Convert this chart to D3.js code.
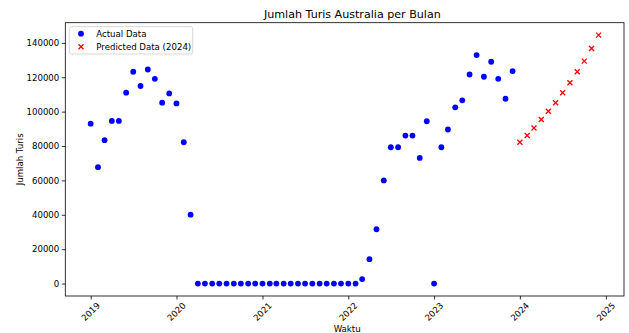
<!DOCTYPE html>
<html>
<head>
<meta charset="utf-8">
<script src="https://cdn.jsdelivr.net/npm/d3@7"></script>
<style>
  html, body { margin: 0; padding: 0; background: #fff; }
  svg { display: block; font-family: "DejaVu Sans", sans-serif; }
</style>
</head>
<body>
<svg id="chart" width="629" height="333"></svg>
<script>
// ---- data ----
const title = "Jumlah Turis Australia per Bulan";
const xLabel = "Waktu";
const yLabel = "Jumlah Turis";
const actualLabel = "Actual Data";
const predictedLabel = "Predicted Data (2024)";

const actualStart = "2019-01-01";
const actualValues = [
  93000, 67700, 83400, 94600, 94600, 111000, 123200, 114900, 124500, 119100, 105200, 110600,
  104800, 82200, 40100, 0, 0, 0, 0, 0, 0, 0, 0, 0,
  0, 0, 0, 0, 0, 0, 0, 0, 0, 0, 0, 0,
  0, 0, 2600, 14200, 31600, 60000, 79300, 79300, 86100, 86100, 73100, 94400,
  0, 79300, 89600, 102500, 106600, 121600, 132900, 120300, 129000, 119100, 107500, 123600
];
const predictedStart = "2024-01-01";
const predictedValues = [82200, 86100, 90500, 95400, 100200, 105200, 111000, 116800, 123200, 129400, 136700, 144500];

const xTickYears = [2019, 2020, 2021, 2022, 2023, 2024, 2025];
const yTicks = [0, 20000, 40000, 60000, 80000, 100000, 120000, 140000];

// ---- build records ----
const parse = d3.utcParse("%Y-%m-%d");
function monthly(start, values) {
  const s = parse(start);
  return values.map((v, i) => ({ date: d3.utcMonth.offset(s, i), value: v }));
}
const actual = monthly(actualStart, actualValues);
const predicted = monthly(predictedStart, predictedValues);
const all = actual.concat(predicted);

// ---- layout ----
const L = 65.3, R = 624, T = 22.7, B = 296;
const svg = d3.select("#chart");

const tExt = d3.extent(all, d => +d.date);
const tPad = (tExt[1] - tExt[0]) * 0.05;
const x = d3.scaleUtc().domain([new Date(tExt[0] - tPad), new Date(tExt[1] + tPad)]).range([L, R]);

const vExt = d3.extent(all, d => d.value);
const vPad = (vExt[1] - vExt[0]) * 0.05;
const y = d3.scaleLinear().domain([vExt[0] - vPad, vExt[1] + vPad]).range([B, T]);

const tickFont = 8.6;

// x axis
const xAxis = d3.axisBottom(x)
  .tickValues(xTickYears.map(yr => new Date(Date.UTC(yr, 0, 1))))
  .tickSize(3.5).tickPadding(2)
  .tickFormat(d3.utcFormat("%Y"));
const gx = svg.append("g").attr("transform", `translate(0,${B})`).call(xAxis);
gx.select(".domain").remove();
gx.selectAll(".tick line").attr("stroke", "#000").attr("stroke-width", 0.8);
gx.selectAll(".tick text")
  .attr("font-size", tickFont)
  .attr("font-family", "DejaVu Sans")
  .attr("fill", "#000")
  .attr("y", 0).attr("dy", 0)
  .attr("text-anchor", "middle")
  .attr("dominant-baseline", "central")
  .attr("transform", "translate(-0.5,15.7) rotate(-45)");

// y axis
const yAxis = d3.axisLeft(y).tickValues(yTicks).tickSize(3.5).tickPadding(2.5)
  .tickFormat(d3.format("d"));
const gy = svg.append("g").attr("transform", `translate(${L},0)`).call(yAxis);
gy.select(".domain").remove();
gy.selectAll(".tick line").attr("stroke", "#000").attr("stroke-width", 0.8);
gy.selectAll(".tick text")
  .attr("font-size", tickFont)
  .attr("font-family", "DejaVu Sans")
  .attr("fill", "#000");

// frame
svg.append("rect")
  .attr("x", L).attr("y", T).attr("width", R - L).attr("height", B - T)
  .attr("fill", "none").attr("stroke", "#000").attr("stroke-width", 0.8);

// actual points
svg.append("g").selectAll("circle").data(actual).join("circle")
  .attr("cx", d => x(d.date)).attr("cy", d => y(d.value))
  .attr("r", 2.9).attr("fill", "#0000ff");

// predicted crosses
const cs = 2.5;
function crossPath(cx, cy) {
  return `M${cx - cs},${cy - cs}L${cx + cs},${cy + cs}M${cx - cs},${cy + cs}L${cx + cs},${cy - cs}`;
}
svg.append("g").selectAll("path").data(predicted).join("path")
  .attr("d", d => crossPath(x(d.date), y(d.value)))
  .attr("stroke", "#ff0000").attr("stroke-width", 1.3).attr("fill", "none");

// title and labels
svg.append("text").attr("x", 264).attr("y", 17.5)
  .attr("font-size", 11.1).attr("fill", "#000").text(title);

svg.append("text").attr("x", (L + R) / 2 + 2.5).attr("y", 331.5)
  .attr("text-anchor", "middle").attr("font-size", tickFont).attr("fill", "#000").text(xLabel);

svg.append("text")
  .attr("transform", `translate(23,${(T + B) / 2}) rotate(-90)`)
  .attr("text-anchor", "middle").attr("font-size", tickFont).attr("fill", "#000").text(yLabel);

// legend
const lg = svg.append("g");
lg.append("rect").attr("x", 69.3).attr("y", 26.7).attr("width", 123.4).attr("height", 27.3)
  .attr("rx", 2).attr("fill", "#fff").attr("fill-opacity", 0.8)
  .attr("stroke", "#d3d3d3").attr("stroke-width", 0.9);
lg.append("circle").attr("cx", 81).attr("cy", 33.7).attr("r", 2.9).attr("fill", "#0000ff");
lg.append("path").attr("d", crossPath(81, 46.7)).attr("stroke", "#ff0000").attr("stroke-width", 1.3);
lg.append("text").attr("x", 96.3).attr("y", 33.7).attr("dominant-baseline", "central")
  .attr("font-size", tickFont).attr("fill", "#000").text(actualLabel);
lg.append("text").attr("x", 96.3).attr("y", 46.7).attr("dominant-baseline", "central")
  .attr("font-size", tickFont).attr("fill", "#000").text(predictedLabel);
</script>
</body>
</html>
